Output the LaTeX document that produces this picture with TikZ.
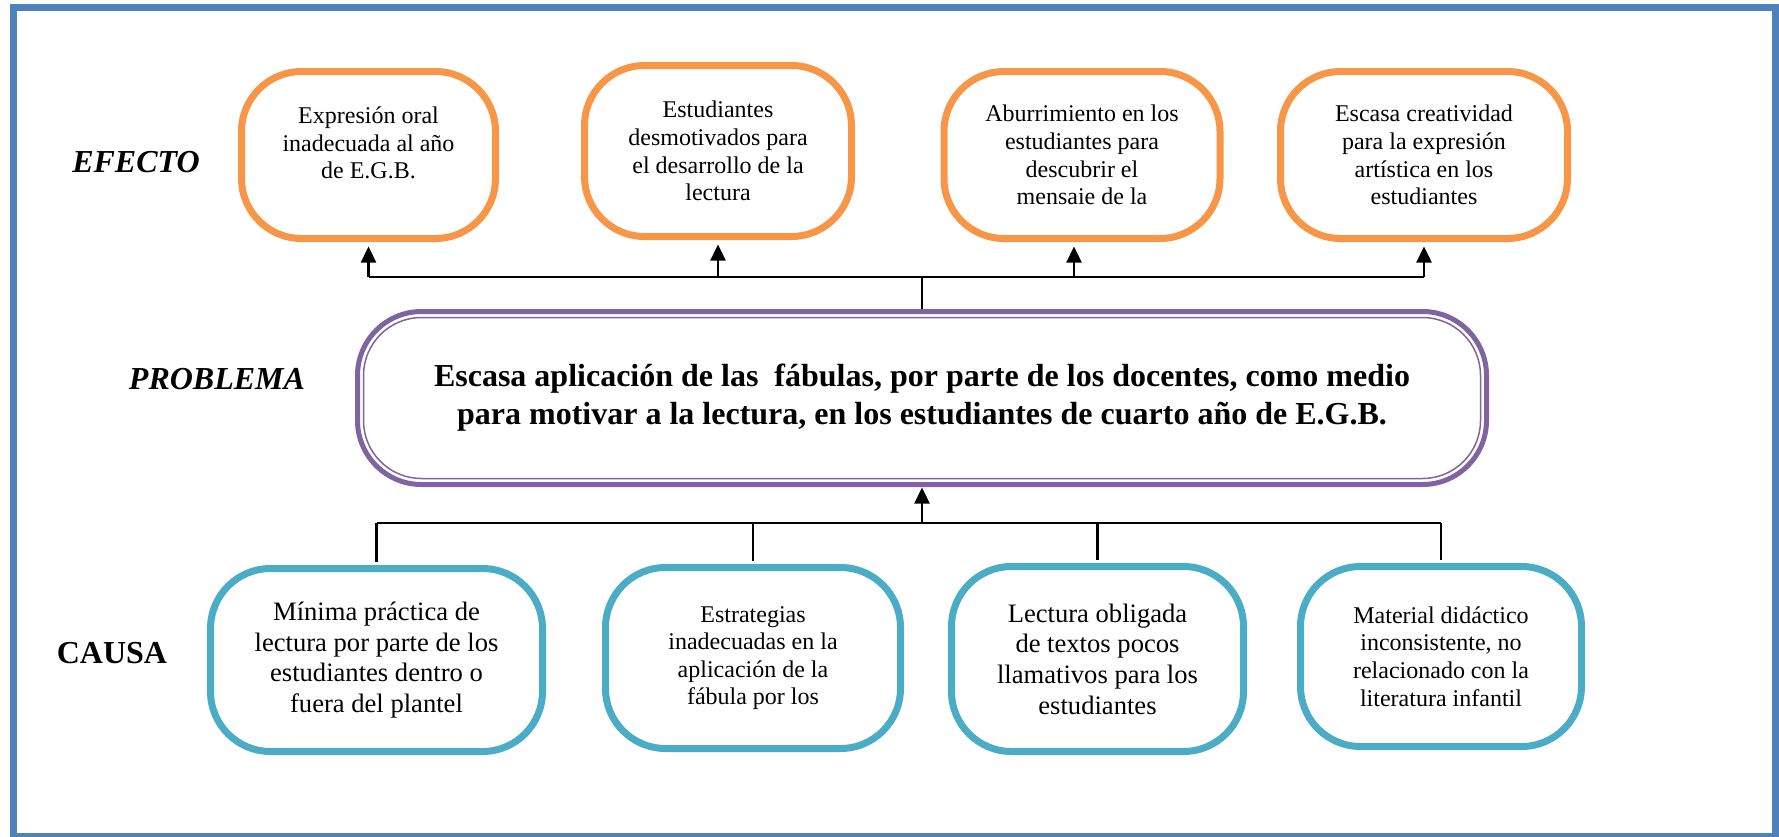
\documentclass[tikz,border=0pt]{standalone}
\usepackage{fontspec}
\setmainfont{Liberation Serif}
\usetikzlibrary{arrows.meta}
\definecolor{effect-orange}{HTML}{F79646}
\definecolor{cause-blue}{HTML}{4BACC6}
\definecolor{problem-purple}{HTML}{8064A2}
\definecolor{frame-blue}{HTML}{4F81BD}
\tikzset{
    effect-box/.style = {draw=effect-orange, fill=white, line width=3.5pt, rectangle, rounded corners=30pt, align=center, inner sep=2pt, outer sep=0pt, font=\fontsize{12}{13.8}\selectfont},
    cause-box/.style = {draw=cause-blue, fill=white, line width=3.5pt, rectangle, rounded corners=30pt, align=center, inner sep=2pt, outer sep=0pt, font=\fontsize{12}{13.8}\selectfont},
    big-text/.style = {font=\fontsize{13.3}{15.3}\selectfont},
    problem-box/.style = {draw=problem-purple, fill=white, line width=2.5pt, rectangle, rounded corners=32pt, align=center, inner sep=2pt, outer sep=0pt, font=\bfseries\fontsize{16}{19}\selectfont},
    side-label/.style = {font=\bfseries\fontsize{16}{19}\selectfont},
    link/.style = {draw=black, line width=1.2pt},
    link-arrow/.style = {link, -{Triangle[width=7.5pt,length=8pt]}},
}

\begin{document}
\begin{tikzpicture}[x=0.5pt,y=-0.5pt]
\useasboundingbox (0,0) rectangle (1779,836);
\draw[frame-blue, line width=3.5pt] (13.5,7.5) rectangle (1775.5,836.5);

% efectos
\node[effect-box, text depth=12pt, minimum width=127pt, minimum height=83.5pt] (E1) at (368.5,155) {Expresión oral\\inadecuada al año\\de E.G.B.};
\node[effect-box, minimum width=133.5pt, minimum height=85.5pt] (E2) at (718,151) {Estudiantes\\desmotivados para\\el desarrollo de la\\lectura};
\node[effect-box, minimum width=138pt, minimum height=83.5pt] (E3) at (1082,155) {Aburrimiento en los\\estudiantes para\\descubrir el\\mensaie de la};
\node[effect-box, minimum width=143.5pt, minimum height=83.5pt] (E4) at (1424,155) {Escasa creatividad\\para la expresión\\artística en los\\estudiantes};

% problema
\node[problem-box, minimum width=564.5pt, minimum height=86.5pt] (P) at (922,398) {Escasa aplicación de las~ fábulas, por parte de los docentes, como medio\\para motivar a la lectura, en los estudiantes de cuarto año de E.G.B.};
\draw[problem-purple, line width=0.75pt, rounded corners=29pt] ([shift={(3pt,-3pt)}]P.north west) rectangle ([shift={(-3pt,3pt)}]P.south east);

% causas
\node[cause-box, big-text, minimum width=166pt, minimum height=91.5pt] (C1) at (376.5,660) {Mínima práctica de\\lectura por parte de los\\estudiantes dentro o\\fuera del plantel};
\node[cause-box, minimum width=147.5pt, minimum height=90.5pt] (C2) at (753,658) {Estrategias\\inadecuadas en la\\aplicación de la\\fábula por los};
\node[cause-box, big-text, minimum width=146pt, minimum height=92.5pt] (C3) at (1097.5,659) {Lectura obligada\\de textos pocos\\llamativos para los\\estudiantes};
\node[cause-box, minimum width=140.5pt, minimum height=90pt] (C4) at (1441,656.5) {Material didáctico\\inconsistente, no\\relacionado con la\\literatura infantil};

% rotulos
\node[side-label, font=\bfseries\itshape\fontsize{16}{19}\selectfont] (efecto) at (136,162) {EFECTO};
\node[side-label, font=\bfseries\itshape\fontsize{16}{19}\selectfont] (problema) at (217,379) {PROBLEMA};
\node[side-label] (causa) at (112,653) {CAUSA};

% conexiones
\coordinate (top) at (922,277);
\coordinate (bot) at (922,523);
\draw[link, shorten <=1.5pt] (P.north) -- (top);
\draw[link] (E1.south |- top) -- (E4.south |- top);
\foreach \n in {E1,E2,E4}
    \draw[link-arrow, shorten >=4pt] (\n.south |- top) -- (\n.south);
\draw[link-arrow, shorten >=4pt] ([xshift=-4pt]E3.south |- top) -- ([xshift=-4pt]E3.south);

\draw[link-arrow, shorten >=1.5pt] (bot) -- (P.south);
\draw[link] (C1.north |- bot) -- (C4.north |- bot);
\foreach \n in {C1,C2,C3,C4}
    \draw[link, shorten >=3.5pt] (\n.north |- bot) -- (\n.north);
\end{tikzpicture}
\end{document}
